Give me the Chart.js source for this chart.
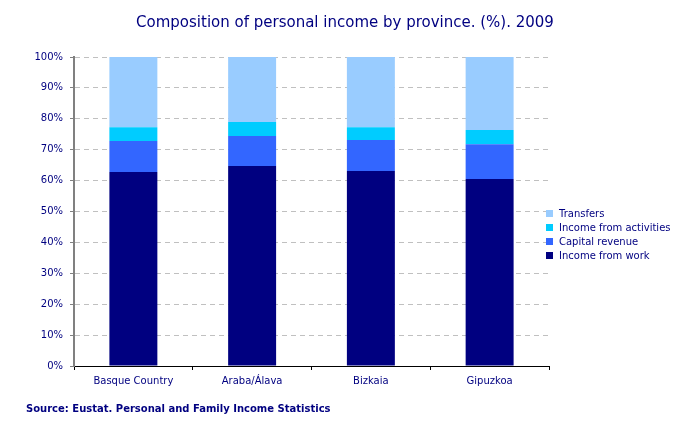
<!DOCTYPE html>
<html>
<head>
<meta charset="utf-8">
<script src="https://cdn.jsdelivr.net/npm/chart.js@4"></script>
<style>
  html, body { margin: 0; padding: 0; background: #fff; }
  .wrap { position: relative; width: 688px; height: 426px; font-family: "DejaVu Sans", Verdana, sans-serif; color: #000080; }
  .chart-box { position: absolute; left: 0; top: 0; width: 688px; height: 426px; }
  .title { position: absolute; left: 0; width: 690px; top: 13px; text-align: center; font-size: 15px; }
  .source { position: absolute; left: 26px; top: 403px; font-size: 10px; font-weight: bold; }
  .legend { position: absolute; left: 546px; top: 207px; font-size: 10px; }
  .legend div { height: 14px; line-height: 14px; white-space: nowrap; }
  .legend span { display: inline-block; width: 7px; height: 7px; margin-right: 6px; vertical-align: 0px; }
</style>
</head>
<body>
<div class="wrap">
  <div class="chart-box"><canvas id="c"></canvas></div>
  <div class="title">Composition of personal income by province. (%). 2009</div>
  <div class="legend" id="legend"></div>
  <div class="source">Source: Eustat. Personal and Family Income Statistics</div>
</div>
<script>
// Composition of personal income by province (%), 2009
const provinces = ['Basque Country', 'Araba/Álava', 'Bizkaia', 'Gipuzkoa'];
const incomeFromWork = [62.8, 64.7, 63.1, 60.5];
const capitalRevenue = [10.0, 9.7, 10.0, 11.3];
const incomeFromActivities = [4.5, 4.6, 4.2, 4.6];
const transfers = [22.7, 21.0, 22.7, 23.6];
const yTicks = [0, 10, 20, 30, 40, 50, 60, 70, 80, 90, 100];

const navy = '#000080';
const series = [
  { label: 'Income from work', data: incomeFromWork, color: '#000080' },
  { label: 'Capital revenue', data: capitalRevenue, color: '#3366ff' },
  { label: 'Income from activities', data: incomeFromActivities, color: '#00ccff' },
  { label: 'Transfers', data: transfers, color: '#99ccff' }
];

// legend, top to bottom in reverse stack order
const legend = document.getElementById('legend');
series.slice().reverse().forEach(function (s) {
  const row = document.createElement('div');
  row.innerHTML = '<span style="background:' + s.color + '"></span>' + s.label;
  legend.appendChild(row);
});

new Chart(document.getElementById('c'), {
  type: 'bar',
  data: {
    labels: provinces,
    datasets: series.map(function (s) {
      return {
        label: s.label,
        data: s.data,
        backgroundColor: s.color,
        borderWidth: 0,
        barPercentage: 0.404,
        categoryPercentage: 1
      };
    })
  },
  options: {
    responsive: true,
    maintainAspectRatio: false,
    animation: false,
    layout: { padding: { left: 24, top: 57, right: 139, bottom: 20 } },
    plugins: { legend: { display: false }, tooltip: { enabled: true } },
    scales: {
      x: {
        stacked: true,
        afterFit: function (s) { s.height = 40; },
        grid: { display: true, drawOnChartArea: false, offset: true, tickLength: 4, color: '#000', tickColor: '#000' },
        border: { color: '#000', width: 1 },
        ticks: { color: navy, padding: 5, font: { family: 'DejaVu Sans', size: 10 } }
      },
      y: {
        stacked: true,
        min: 0, max: 100,
        afterFit: function (s) { s.width = 50; },
        afterBuildTicks: function (s) { s.ticks = yTicks.map(function (v) { return { value: v }; }); },
        grid: { color: '#c0c0c0', tickColor: '#808080', tickLength: 4, tickBorderDash: [] },
        border: { color: '#808080', width: 2, dash: [5, 4] },
        ticks: {
          color: navy, padding: 7,
          font: { family: 'DejaVu Sans', size: 10 },
          callback: function (v) { return v + '%'; }
        }
      }
    }
  }
});
</script>
</body>
</html>
